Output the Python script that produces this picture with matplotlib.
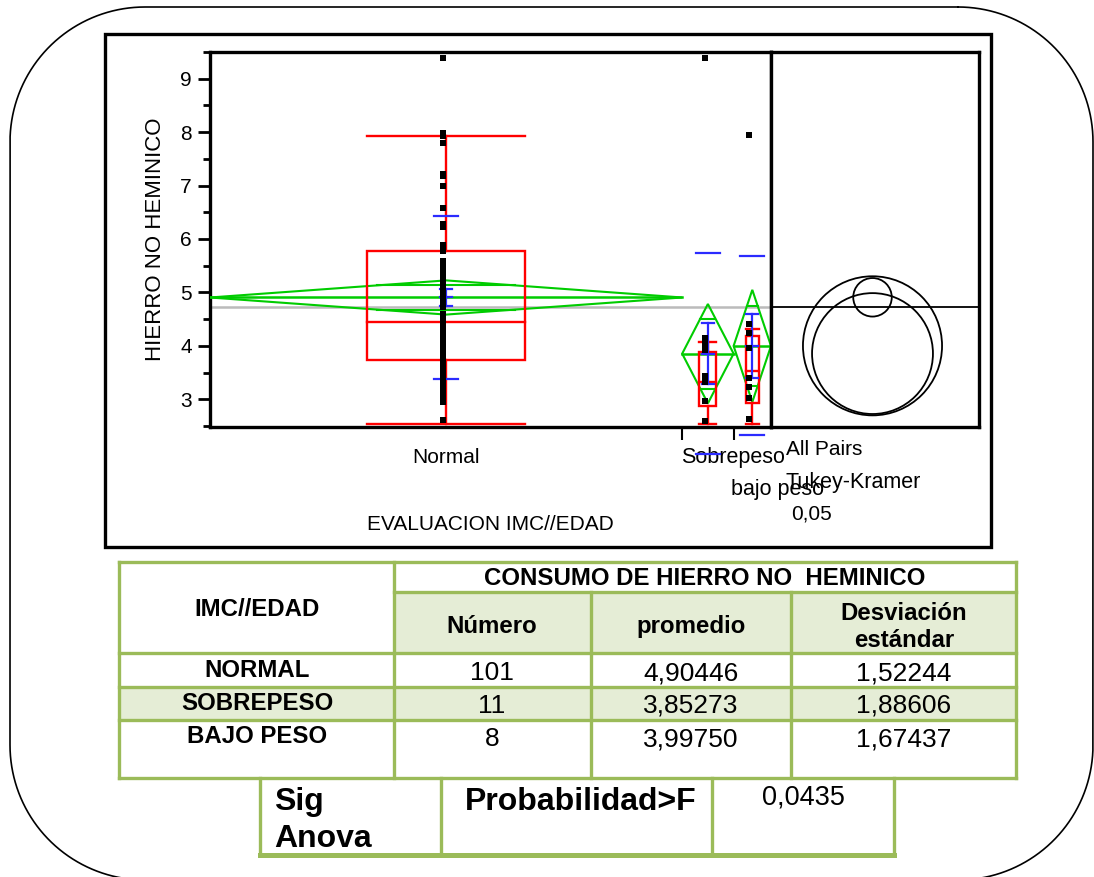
import matplotlib
matplotlib.use('Agg')
import matplotlib.pyplot as plt
from matplotlib.patches import Rectangle, Circle, Polygon
import numpy as np

W, H = 1094, 877
plt.rcParams['font.family'] = ['Liberation Sans', 'DejaVu Sans']

# ---------------- data ----------------
groups = ['Normal', 'Sobrepeso', 'bajo peso']
table_groups = ['NORMAL', 'SOBREPESO', 'BAJO PESO']
counts = [101, 11, 8]
means = [4.90446, 3.85273, 3.99750]
sds = [1.52244, 1.88606, 1.67437]
grand_mean = 4.73
ci_half = [0.32, 0.93, 1.05]
q1 = [3.73, 2.87, 2.93]
medians = [4.45, 3.32, 3.53]
q3 = [5.77, 3.88, 4.18]
whisk_lo = [2.54, 2.54, 2.54]
whisk_hi = [7.92, 4.08, 4.31]
circle_r = [0.36, 1.13, 1.30]
p_value = 0.0435
alpha = 0.05
y_ticks = [3, 4, 5, 6, 7, 8, 9]

normal_pts = [9.38,
              7.98, 7.98, 7.98, 7.92, 7.80, 7.80,
              7.22, 7.18, 7.00, 7.00,
              6.58, 6.58, 6.28, 6.28, 6.25, 6.22,
              5.88, 5.88, 5.86, 5.84, 5.84, 5.80, 5.78, 5.78,
              5.58, 5.52, 5.46, 5.46, 5.40, 5.35, 5.35, 5.28, 5.20, 5.14,
              5.05, 5.05, 4.99, 4.90, 4.82, 4.73, 4.60, 4.60, 4.56, 4.56,
              4.52, 4.52, 4.52, 4.48, 4.48,
              4.45,
              4.44, 4.44, 4.40, 4.40, 4.35, 4.28, 4.22, 4.16, 4.16, 4.08,
              4.01, 4.01, 3.95, 3.95, 3.90, 3.88, 3.85, 3.80, 3.80, 3.75,
              3.75, 3.75, 3.73, 3.73, 3.73,
              3.64, 3.64, 3.60, 3.57, 3.57, 3.50, 3.45, 3.45, 3.40, 3.37,
              3.37, 3.32, 3.25, 3.20, 3.17, 3.17, 3.10, 3.05, 3.02, 2.98,
              2.98, 2.98, 2.95, 2.61, 2.61]
sobre_pts = [9.38, 4.15, 4.04, 3.95, 3.93, 3.43, 3.40, 3.32, 2.96, 2.96, 2.59]
bajo_pts = [7.95, 4.40, 4.24, 3.95, 3.39, 3.22, 3.03, 2.63]
group_pts = [normal_pts, sobre_pts, bajo_pts]

RED = '#FF0000'
GREEN = '#00CC00'
BLUE = '#2B2BFF'
TGREEN = '#9BBB59'
TFILL = '#E5EDD6'

fig = plt.figure(figsize=(W / 100, H / 100), dpi=100)

# background / pixel-coordinate axes
bg = fig.add_axes([0, 0, 1, 1], zorder=0)
bg.set_xlim(0, W)
bg.set_ylim(H, 0)
bg.axis('off')

# rounded outer frame (straight edges + quarter arcs)
fx0, fx1, fy0, fy1, rr = 10, 1093, 7, 880, 135
t = np.linspace(0, np.pi / 2, 40)
px, py = [], []
for (ccx, ccy, a0) in [(fx1 - rr, fy0 + rr, -np.pi / 2), (fx1 - rr, fy1 - rr, 0),
                       (fx0 + rr, fy1 - rr, np.pi / 2), (fx0 + rr, fy0 + rr, np.pi)]:
    ang = a0 + t
    px.extend(ccx + rr * np.cos(ang))
    py.extend(ccy + rr * np.sin(ang))
px.append(px[0])
py.append(py[0])
bg.plot(px, py, color='black', lw=1.2, clip_on=False)

# black frame around the chart
bg.add_patch(Rectangle((105, 34), 886, 513, fill=False, ec='black', lw=2.4))

# ---------------- main axes ----------------
ylo, yhi = 2.48, 9.49
ax = fig.add_axes([210 / W, 1 - 427 / H, 561 / W, 375 / H], zorder=2)
ax.set_xlim(0, sum(counts))
ax.set_ylim(ylo, yhi)
for s in ax.spines.values():
    s.set_linewidth(2.4)
ax.set_yticks(y_ticks)
ax.set_yticks(np.arange(2.5, 9.6, 0.5), minor=True)
ax.tick_params(axis='y', which='major', direction='out', length=9, width=2,
               labelsize=15, pad=4)
ax.tick_params(axis='y', which='minor', direction='out', length=5, width=2)
edges = np.concatenate([[0], np.cumsum(counts)])
centers = (edges[:-1] + edges[1:]) / 2
ax.set_xticks(edges[1:-1])
ax.set_xticklabels([])
ax.tick_params(axis='x', direction='out', length=9, width=1.5)
ax.set_ylabel('HIERRO NO HEMINICO', fontsize=16, labelpad=10)

upx = sum(counts) / 561.0  # data units per pixel (x)

ax.axhline(grand_mean, color='#BBBBBB', lw=1.8, zorder=1)

for i in range(3):
    c = centers[i]
    left, right = edges[i], edges[i + 1]
    m = means[i]
    h = ci_half[i]
    hw = (right - left) / 2
    # mean diamond
    ax.add_patch(Polygon([(left, m), (c, m + h), (right, m), (c, m - h)],
                         closed=True, fill=False, ec=GREEN, lw=1.5, zorder=3))
    ax.plot([left, right], [m, m], color=GREEN, lw=1.8, zorder=3)
    ow = hw * (1 - 1 / np.sqrt(2))
    for sgn in (1, -1):
        ax.plot([c - ow, c + ow], [m + sgn * h / np.sqrt(2)] * 2, color=GREEN,
                lw=1.5, zorder=3)
    # box plot
    bw = counts[i] / 6.0
    ax.add_patch(Rectangle((c - bw, q1[i]), 2 * bw, q3[i] - q1[i], fill=False,
                           ec=RED, lw=1.7, zorder=4))
    ax.plot([c - bw, c + bw], [medians[i]] * 2, color=RED, lw=1.7, zorder=4)
    ax.plot([c, c], [q3[i], whisk_hi[i]], color=RED, lw=1.7, zorder=4)
    ax.plot([c, c], [q1[i], whisk_lo[i]], color=RED, lw=1.7, zorder=4)
    for yv in (whisk_lo[i], whisk_hi[i]):
        ax.plot([c - bw, c + bw], [yv, yv], color=RED, lw=1.7, zorder=4)
    # blue SD lines and mean error bar
    sdw = 12 * upx
    for yv in (m + sds[i], m - sds[i]):
        ax.plot([c - sdw, c + sdw], [yv, yv], color=BLUE, lw=1.6, zorder=5,
                clip_on=False)
    se = sds[i] / np.sqrt(counts[i])
    cw = 6 * upx
    ax.plot([c, c], [m - se, m + se], color=BLUE, lw=1.6, zorder=5)
    for yv in (m - se, m, m + se):
        ax.plot([c - cw, c + cw], [yv, yv], color=BLUE, lw=1.6, zorder=5)
    # points
    pts = group_pts[i]
    ax.plot([c - 0.65] * len(pts), pts, 's', color='black', ms=3.8, mew=0,
            zorder=6, clip_on=False)

# ---------------- comparison circles panel ----------------
axr = fig.add_axes([771 / W, 1 - 427 / H, 208 / W, 375 / H], zorder=2)
ppu = 375.0 / (yhi - ylo)
axr.set_xlim(0, 208.0 / ppu)
axr.set_ylim(ylo, yhi)
axr.set_xticks([])
axr.set_yticks([])
for s in axr.spines.values():
    s.set_linewidth(2.4)
axr.axhline(grand_mean, color='black', lw=1.3)
cx = (872.5 - 771) / ppu
for i in range(3):
    axr.add_patch(Circle((cx, means[i]), circle_r[i], fill=False, ec='black',
                         lw=1.3))

# ---------------- axis texts ----------------
bg.text(446, 463, groups[0], fontsize=15, ha='center', va='baseline')
bg.text(681, 463, groups[1], fontsize=15.5, ha='left', va='baseline')
bg.text(731, 495, groups[2], fontsize=15.5, ha='left', va='baseline')
bg.text(786, 455, 'All Pairs', fontsize=15, ha='left', va='baseline')
bg.text(785, 488, 'Tukey-Kramer', fontsize=15.5, ha='left', va='baseline')
bg.text(812, 520, f'{alpha:.2f}'.replace('.', ','), fontsize=15, ha='center',
        va='baseline')
bg.text(490, 530, 'EVALUACION IMC//EDAD', fontsize=15, ha='center', va='baseline')

# ---------------- table ----------------
bg.add_patch(Rectangle((394, 592), 1016 - 394, 653 - 592, fc=TFILL, ec='none'))
bg.add_patch(Rectangle((119, 687), 1016 - 119, 720 - 687, fc=TFILL, ec='none'))


def hl(y, x0, x1, lw=2.4):
    bg.plot([x0, x1], [y, y], color=TGREEN, lw=lw, solid_capstyle='projecting')


def vl(x, y0, y1, lw=2.4):
    bg.plot([x, x], [y0, y1], color=TGREEN, lw=lw, solid_capstyle='projecting')


hl(562, 119, 1016)
hl(592, 394, 1016)
for yv in (653, 687, 720, 778):
    hl(yv, 119, 1016)
vl(119, 562, 778)
vl(394, 562, 778)
vl(591, 592, 778)
vl(791, 592, 778)
vl(1016, 562, 778)

HB = 17.3
bg.text(705, 585, 'CONSUMO DE HIERRO NO  HEMINICO', fontsize=HB, weight='bold',
        ha='center', va='baseline')
bg.text(257, 616, 'IMC//EDAD', fontsize=HB, weight='bold', ha='center', va='baseline')
bg.text(492, 633, 'Número', fontsize=HB, weight='bold', ha='center', va='baseline')
bg.text(691, 633, 'promedio', fontsize=HB, weight='bold', ha='center', va='baseline')
bg.text(904, 620, 'Desviación', fontsize=HB, weight='bold', ha='center', va='baseline')
bg.text(904, 647, 'estándar', fontsize=HB, weight='bold', ha='center', va='baseline')

row_base = [677, 710, 743]
for i in range(3):
    bg.text(257, row_base[i], table_groups[i], fontsize=HB, weight='bold',
            ha='center', va='baseline')
    bg.text(492, row_base[i] + 3, str(counts[i]), fontsize=19, ha='center', va='baseline')
    bg.text(691, row_base[i] + 3, f'{means[i]:.5f}'.replace('.', ','), fontsize=19,
            ha='center', va='baseline')
    bg.text(904, row_base[i] + 3, f'{sds[i]:.5f}'.replace('.', ','), fontsize=19,
            ha='center', va='baseline')

# second table
for xv in (260, 441, 712, 894):
    vl(xv, 778, 855)
hl(855, 260, 894, lw=3.6)
bg.text(274, 810, 'Sig', fontsize=23, weight='bold', ha='left', va='baseline')
bg.text(274, 847, 'Anova', fontsize=23, weight='bold', ha='left', va='baseline')
bg.text(581, 810, 'Probabilidad>F', fontsize=23, weight='bold', ha='center',
        va='baseline')
bg.text(803, 805, f'{p_value:.4f}'.replace('.', ','), fontsize=19.5, ha='center',
        va='baseline')

fig.savefig('out.png', dpi=100)
